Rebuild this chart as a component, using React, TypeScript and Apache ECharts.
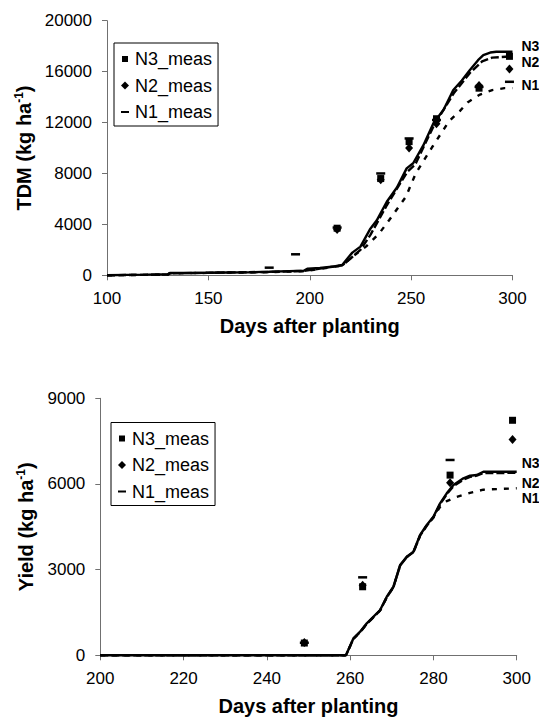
import React, { useEffect, useRef } from "react";
import * as echarts from "echarts";

const FONT = "'Liberation Sans', Arial, sans-serif";

// ---- Top chart: TDM ----
const tdmN3Sim: [number, number][] = [
  [100, 0], [110, 30], [120, 50], [130, 80], [131, 180], [150, 200], [170, 240], [180, 280],
  [190, 330], [197, 360], [199, 520], [205, 580], [212, 700], [216, 810], [219, 1400], [221, 1780],
  [225, 2250], [229.7, 3610], [233, 4300], [238, 5780], [243, 6900], [247.8, 8400], [251, 8800],
  [256, 10200], [261, 11940], [266, 13000], [270.8, 14560], [275, 15300], [279, 16130], [283, 16900],
  [285.6, 17300], [289, 17500], [292, 17560], [300, 17560],
];
const tdmN2Sim: [number, number][] = [
  [100, 0], [130, 60], [131, 160], [180, 260], [197, 340], [216, 780], [220, 1300], [225, 2000],
  [230, 3200], [238, 5500], [248, 8100], [252, 8700], [261, 11700], [271, 14300], [279, 15900],
  [285, 16800], [290, 17100], [300, 17200],
];
const tdmN1Sim: [number, number][] = [
  [100, 0], [130, 50], [131, 150], [180, 250], [197, 320], [216, 760], [221, 1460], [227.7, 2250],
  [234.3, 3300], [239.2, 4340], [247.4, 6170], [252.3, 8010], [260.5, 10100], [268.7, 12100],
  [274, 12900], [278, 13600], [284, 14200], [290, 14550], [296, 14700], [300, 14700],
];
const tdmN3Meas: [number, number][] = [
  [213.5, 3700], [235, 7600], [249, 10500], [262.5, 12300], [283.5, 14700], [298.5, 17200],
];
const tdmN2Meas: [number, number][] = [
  [213.5, 3600], [235, 7500], [249, 10000], [262.5, 11900], [283.5, 14900], [298.5, 16200],
];
const tdmN1Meas: [number, number][] = [
  [180, 600], [193, 1650], [213.5, 3750], [235, 8000], [249, 10750], [262.5, 12200], [283.5, 14800], [298.5, 15200],
];

// ---- Bottom chart: Yield ----
const yldN3Sim: [number, number][] = [
  [200, 0], [259, 0], [260.8, 595], [262.4, 826], [264, 1120], [267.2, 1586], [268.8, 2052],
  [270.4, 2402], [272, 3162], [273.6, 3453], [275.2, 3628], [276.8, 4212], [278.4, 4562],
  [280, 4853], [281.6, 5322], [283.2, 5672], [284.8, 5963], [287.2, 6197], [288.8, 6289],
  [290.4, 6313], [292, 6429], [300, 6429],
];
const yldN2Sim: [number, number][] = [
  [200, 0], [259, 0], [260.8, 580], [262.4, 810], [264, 1100], [267.2, 1570], [268.8, 2030],
  [270.4, 2390], [272, 3140], [273.6, 3440], [275.2, 3610], [276.8, 4190], [278.4, 4540],
  [280, 4830], [281.6, 5290], [283.2, 5640], [284.8, 5920], [287.2, 6150], [288.8, 6250],
  [290.4, 6290], [292, 6380], [300, 6390],
];
const yldN1Sim: [number, number][] = [
  [200, 0], [259, 0], [260.8, 580], [262.4, 810], [264, 1100], [267.2, 1570], [268.8, 2030],
  [270.4, 2390], [272, 3140], [273.6, 3440], [275.2, 3610], [276.8, 4190], [278.4, 4540],
  [280, 4830], [281.6, 5200], [283.2, 5400], [285.6, 5550], [288.8, 5690], [292, 5800], [300, 5850],
];
const yldN3Meas: [number, number][] = [[249, 430], [263, 2400], [284, 6310], [299, 8230]];
const yldN2Meas: [number, number][] = [[249, 450], [263, 2450], [284, 6040], [299, 7560]];
const yldN1Meas: [number, number][] = [[249, 440], [263, 2730], [284, 6840]];

const measNames = ["N3_meas", "N2_meas", "N1_meas"];

const ICON_SQUARE = "path://M-2,-2L-2,-2M0,0H6V6H0ZM8,8L8,8";
const ICON_DIAMOND = "path://M-2,-2L-2,-2M3,-1L7,3L3,7L-1,3ZM8,8L8,8";
const ICON_DASH = "path://M-2,-2L-2,-2M-1,2H7V4H-1ZM8,8L8,8";

export default function App() {
  const ref = useRef<HTMLDivElement>(null);
  useEffect(() => {
    if (!ref.current) return;
    const chart = echarts.init(ref.current, undefined, { renderer: "svg" });

    const axisLineColor = "#707070";
    const mkX = (idx: number, min: number, max: number, interval: number) => ({
      type: "value",
      gridIndex: idx,
      min,
      max,
      interval,
      name: "Days after planting",
      nameLocation: "middle",
      nameGap: 41,
      nameTextStyle: { fontFamily: FONT, fontSize: 20, fontWeight: "bold", color: "#000" },
      axisLine: { show: true, onZero: false, lineStyle: { color: axisLineColor, width: 1 } },
      axisTick: { show: true, inside: false, length: 5, lineStyle: { color: axisLineColor } },
      axisLabel: { fontFamily: FONT, fontSize: 17, color: "#000", margin: 15, formatter: (v: number) => String(v) },
      splitLine: { show: false },
    });
    const mkY = (idx: number, max: number, interval: number, title: string, gap: number) => ({
      type: "value",
      gridIndex: idx,
      min: 0,
      max,
      interval,
      name: `{b|${title} (kg ha}{s|-1}{b|)}`,
      nameLocation: "middle",
      nameRotate: 90,
      nameGap: gap,
      nameTextStyle: {
        fontFamily: FONT,
        fontSize: 20,
        fontWeight: "bold",
        color: "#000",
        rich: {
          b: { fontFamily: FONT, fontSize: 20, fontWeight: "bold", color: "#000" },
          s: { fontFamily: FONT, fontSize: 12, fontWeight: "bold", color: "#000", padding: [0, 0, 10, 0] },
        },
      },
      axisLine: { show: true, lineStyle: { color: axisLineColor, width: 1 } },
      axisTick: { show: true, inside: false, length: 5, lineStyle: { color: axisLineColor } },
      axisLabel: { fontFamily: FONT, fontSize: 17, color: "#000", margin: 15, formatter: (v: number) => String(v) },
      splitLine: { show: false },
    });

    const lineSeries = (
      name: string,
      data: [number, number][],
      idx: number,
      type: string | number[],
      label: string,
      offsetY: number,
      dist: number
    ) => ({
      type: "line",
      name,
      xAxisIndex: idx,
      yAxisIndex: idx,
      data,
      symbol: "none",
      showSymbol: false,
      clip: false,
      z: 2,
      lineStyle: { color: "#000", width: 2.4, type },
      endLabel: {
        show: true,
        formatter: label,
        distance: dist,
        offset: [0, offsetY],
        fontFamily: FONT,
        fontSize: 14,
        fontWeight: "bold",
        color: "#000",
      },
      emphasis: { disabled: true },
    });

    const scatter = (name: string, data: [number, number][], idx: number, kind: string) => {
      let symbol = "rect";
      let symbolSize: number | number[] = [7, 7];
      if (kind === "diamond") {
        symbol = "diamond";
        symbolSize = [8, 9];
      } else if (kind === "dash") {
        symbol = "rect";
        symbolSize = [9, 2.5];
      }
      return {
        type: "scatter",
        name,
        xAxisIndex: idx,
        yAxisIndex: idx,
        data,
        symbol,
        symbolSize,
        itemStyle: { color: "#000", opacity: 1 },
        z: 3,
        emphasis: { disabled: true },
      };
    };

    const legendBase = {
      orient: "vertical",
      borderColor: "#000",
      borderWidth: 1,
      padding: [7, 6, 5, 6],
      itemGap: 8.5,
      itemWidth: 10,
      itemHeight: 10,
      selectedMode: false,
      textStyle: { fontFamily: FONT, fontSize: 18, color: "#000" },
      data: [
        { name: measNames[0], icon: ICON_SQUARE, itemStyle: { color: "#000" } },
        { name: measNames[1], icon: ICON_DIAMOND, itemStyle: { color: "#000" } },
        { name: measNames[2], icon: ICON_DASH, itemStyle: { color: "#000" } },
      ],
    };

    chart.setOption({
      animation: false,
      backgroundColor: "#fff",
      grid: [
        { left: 107, top: 20.7, width: 405.5, height: 254.6, outerBoundsMode: "none", containLabel: false },
        { left: 100.3, top: 398.3, width: 416.4, height: 257, outerBoundsMode: "none", containLabel: false },
      ],
      xAxis: [mkX(0, 100, 300, 50), mkX(1, 200, 300, 20)],
      yAxis: [mkY(0, 20000, 4000, "TDM", 72), mkY(1, 9000, 3000, "Yield", 63)],
      legend: [
        { ...legendBase, left: 114, top: 43 },
        { ...legendBase, left: 111, top: 422.5 },
      ],
      series: [
        lineSeries("N3", tdmN3Sim, 0, "solid", "N3", -6, 9),
        lineSeries("N2", tdmN2Sim, 0, [8, 3], "N2", 6, 9),
        lineSeries("N1", tdmN1Sim, 0, [5, 7], "N1", -3, 9),
        scatter(measNames[0], tdmN3Meas, 0, "square"),
        scatter(measNames[1], tdmN2Meas, 0, "diamond"),
        scatter(measNames[2], tdmN1Meas, 0, "dash"),
        lineSeries("N3 ", yldN3Sim, 1, "solid", "N3", -9, 5),
        lineSeries("N2 ", yldN2Sim, 1, [8, 3], "N2", 10, 5),
        lineSeries("N1 ", yldN1Sim, 1, [5, 7], "N1", 10, 5),
        scatter(measNames[0], yldN3Meas, 1, "square"),
        scatter(measNames[1], yldN2Meas, 1, "diamond"),
        scatter(measNames[2], yldN1Meas, 1, "dash"),
      ],
    });
    return () => chart.dispose();
  }, []);
  return (
    <div
      ref={ref}
      style={{ position: "fixed", left: 0, top: 0, width: 539, height: 720, background: "#fff" }}
    />
  );
}
